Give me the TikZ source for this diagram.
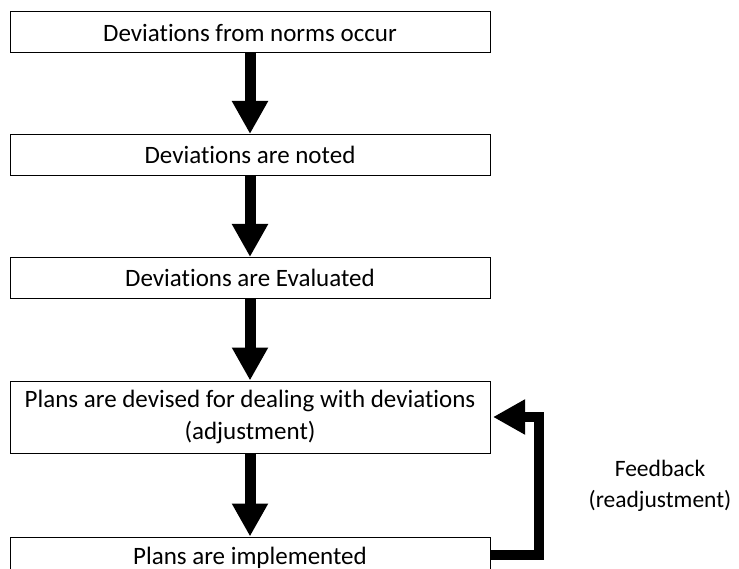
\documentclass[tikz,border=0pt]{standalone}
\usepackage{fontspec}
\setmainfont{Carlito}[Ligatures={NoCommon}]
\usetikzlibrary{arrows.meta}
\begin{document}
\begin{tikzpicture}[x=1pt,y=-1pt,
  stepbox/.style={draw=black, line width=1pt, fill=white, minimum width=480pt,
    minimum height=41pt, inner sep=0pt, align=center,
    font=\fontsize{25}{32}\selectfont},
  flow/.style={line width=11pt, -{Triangle[width=34pt,length=33pt]}},
  feedback/.style={line width=10pt, line join=miter,
    -{Triangle[width=33pt,length=32pt]}}]
  \useasboundingbox (0,0) rectangle (739,569);
  \begin{scope}
    \clip (0,0) rectangle (739,569);
    \node[stepbox] (b1) at (250,32.5) {Deviations from norms occur};
    \node[stepbox] (b2) at (250,155) {Deviations are noted};
    \node[stepbox] (b3) at (250,278) {Deviations are Evaluated};
    \node[stepbox, minimum height=72pt] (b4) at (250,417)
      {Plans are devised for dealing with deviations\\(adjustment)};
    \node[stepbox] (b5) at (250,557.5) {Plans are implemented};

    \draw[flow] (b1.south) -- (b2.north);
    \draw[flow] (b2.south) -- (b3.north);
    \draw[flow] (b3.south) -- (b4.north);
    \draw[flow] (b4.south) -- (b5.north);

    \coordinate (fbstart) at (b5.east |- 0,555);
    \coordinate (fbend) at (493,417);
    \draw[feedback] (fbstart) -- (539,555) -- (539,417) -- (fbend);

    \node[font=\fontsize{23.5}{31}\selectfont, align=center] (fb) at (660,485.5)
      {Feedback\\(readjustment)};
  \end{scope}
\end{tikzpicture}
\end{document}
